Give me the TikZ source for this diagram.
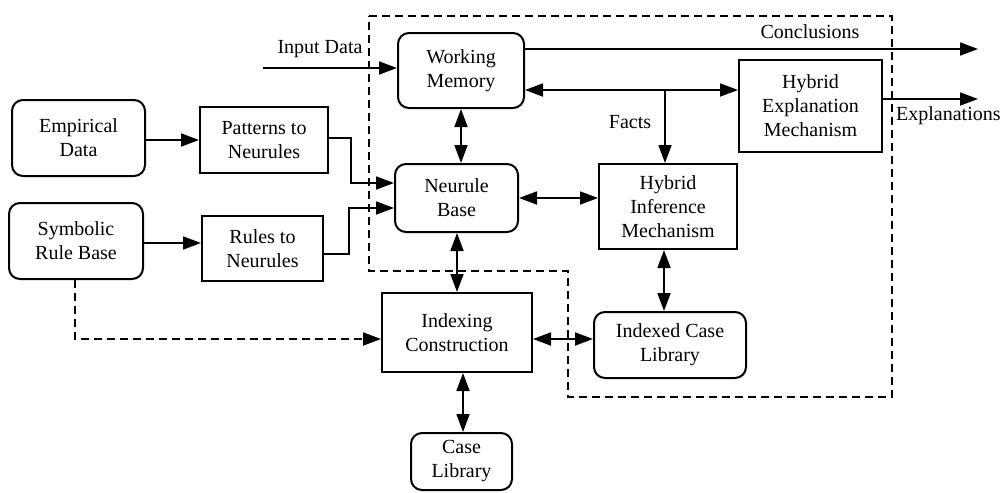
\documentclass[tikz,border=0pt]{standalone}
\usepackage{fontspec}
\setmainfont{Liberation Serif}
\usetikzlibrary{arrows.meta}
\begin{document}
\begin{tikzpicture}[x=1pt,y=-1pt,
  every node/.style={font=\fontsize{20}{24}\selectfont, align=center, inner sep=0pt},
  sq/.style={draw, line width=2pt, minimum width=#1},
  rnd/.style={draw, line width=2pt, rounded corners=11pt, minimum width=#1},
  conn/.style={line width=1.8pt, -{Triangle[length=18pt,width=13pt]}},
  bconn/.style={line width=1.8pt, {Triangle[length=18pt,width=13pt]}-{Triangle[length=18pt,width=13pt]}},
  lbl/.style={font=\fontsize{20}{24}\selectfont},
  border/.style={line width=1.7pt, dash pattern=on 8pt off 5pt}
]
\useasboundingbox (0,0) rectangle (1005,493);

% dashed boundary
\draw[border] (369,16) -- (892,16) -- (892,397) -- (568,397) -- (568,271) -- (369,271) -- cycle;

% nodes
\node[rnd=126pt, minimum height=75pt] (wm) at (461,70.5) {Working\\Memory};
\node[sq=143pt, minimum height=92pt] (hem) at (810.5,106) {Hybrid\\Explanation\\Mechanism};
\node[sq=138pt, minimum height=85pt] (him) at (668,206.5) {Hybrid\\Inference\\Mechanism};
\node[rnd=123pt, minimum height=68pt] (nb) at (456.5,198) {Neurule\\Base};
\node[sq=150pt, minimum height=79pt] (ic) at (457,332.5) {Indexing\\Construction};
\node[rnd=101pt, minimum height=57pt] (cl) at (461.5,461.5) {Case\\Library};
\node[rnd=152pt, minimum height=66pt] (icl) at (670,345) {Indexed Case\\Library};
\node[rnd=133pt, minimum height=76pt] (ed) at (78.5,138) {Empirical\\Data};
\node[sq=128pt, minimum height=66pt] (ptn) at (264,140) {Patterns to\\Neurules};
\node[rnd=134pt, minimum height=76pt] (srb) at (76,241) {Symbolic\\Rule Base};
\node[sq=121pt, minimum height=65pt] (rtn) at (262.5,248.5) {Rules to\\Neurules};

% free-end coordinates
\coordinate (inp) at (263,68);
\coordinate (concl) at (978,49);
\coordinate (expl) at (978,99);
\coordinate (fj) at (665,90);
\coordinate (p1) at (351,138);
\coordinate (p2) at (351,183);
\coordinate (r1) at (349,254);
\coordinate (r2) at (349,208);
\coordinate (sd) at (75,339);

% labels
\node[lbl] (tinp) at (320,49) {Input Data};
\node[lbl] (tconcl) at (810,32) {Conclusions};
\node[lbl] (tfacts) at (630,122) {Facts};
\node[lbl, anchor=west] (texpl) at (896,116) {Explanations};

% connectors
\draw[conn] (inp) -- (wm.west |- inp);
\draw[conn] (wm.east |- concl) -- (concl);
\draw[conn] (hem.east |- expl) -- (expl);
\draw[bconn] (wm.east |- fj) -- (hem.west |- fj);
\draw[conn] (fj) -- (fj |- him.north);
\draw[bconn] (wm.south -| 461,0) -- (nb.north -| 461,0);
\draw[bconn] (nb.east) -- (him.west |- nb.east);
\draw[bconn] (nb.south -| 457,0) -- (ic.north -| 457,0);
\draw[bconn] (ic.south -| 463,0) -- (cl.north -| 463,0);
\draw[bconn] (him.south -| 664,0) -- (icl.north -| 664,0);
\draw[bconn] (ic.east |- sd) -- (icl.west |- sd);
\draw[conn] (ed.east |- ptn.west) -- (ptn.west);
\draw[conn] (srb.east |- 0,243) -- (rtn.west |- 0,243);
\draw[conn] (ptn.east |- p1) -- (p1) -- (p2) -- (nb.west |- p2);
\draw[conn] (rtn.east |- r1) -- (r1) -- (r2) -- (nb.west |- r2);
\draw[conn, dash pattern=on 8pt off 5pt] (srb.south -| sd) -- (sd) -- (ic.west |- sd);
\end{tikzpicture}
\end{document}
